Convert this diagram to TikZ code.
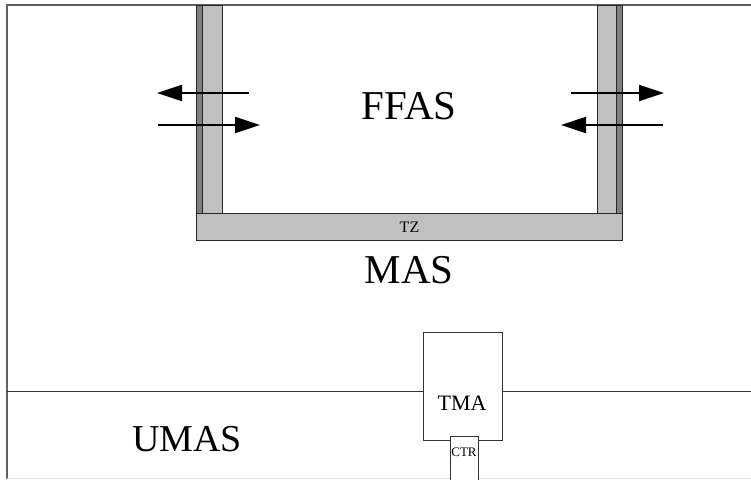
\documentclass[tikz,border=0pt]{standalone}
\usepackage{fontspec}
\setmainfont{Liberation Serif}
\usetikzlibrary{arrows.meta}
\definecolor{wallL}{HTML}{C0C0C0}
\definecolor{wallD}{HTML}{808080}
\definecolor{frameC}{HTML}{606060}
\begin{document}
\begin{tikzpicture}[x=1pt,y=-1pt,
  wall/.style={draw=black!85,line width=1pt,fill=wallL},
  dwall/.style={draw=black!85,line width=1pt,fill=wallD},
  flux/.style={line width=1.8pt,-{Triangle[length=25pt,width=16pt]}},
  big/.style={font=\fontsize{41}{44}\selectfont},
  boxw/.style={draw=black!80,line width=1pt,fill=white}]
\useasboundingbox (0,0) rectangle (751,479);
% frame
\draw[frameC,line width=1.6pt] (7,479) -- (7,5) -- (751,5);
\draw[black!12,line width=1pt] (7,478) -- (751,478);
% horizontal divider
\coordinate (dl) at (7,391);
\coordinate (dr) at (751,391);
\draw[black!80,line width=1pt] (dl) -- (dr);
% walls
\node[dwall,minimum width=6pt,minimum height=208pt,inner sep=0pt,anchor=north west] (ldark) at (196,5) {};
\node[wall,minimum width=20pt,minimum height=208pt,inner sep=0pt,anchor=north west] (llight) at (202,5) {};
\node[wall,minimum width=19pt,minimum height=208pt,inner sep=0pt,anchor=north west] (rlight) at (597,5) {};
\node[dwall,minimum width=6pt,minimum height=208pt,inner sep=0pt,anchor=north west] (rdark) at (616,5) {};
\node[wall,minimum width=426pt,minimum height=27pt,inner sep=0pt,anchor=north west,font=\fontsize{16}{16}\selectfont] (tz) at (196,213) {TZ};
% arrows
\coordinate (a1s) at (249,93); \coordinate (a1e) at (157,93);
\coordinate (a2s) at (158,125); \coordinate (a2e) at (260,125);
\coordinate (a3s) at (571,93); \coordinate (a3e) at (664,93);
\coordinate (a4s) at (663,125); \coordinate (a4e) at (561,125);
\draw[flux] (a1s) -- (a1e);
\draw[flux] (a2s) -- (a2e);
\draw[flux] (a3s) -- (a3e);
\draw[flux] (a4s) -- (a4e);
% labels
\node[big] (ffas) at (409,106) {FFAS};
\node[big] (mas) at (409,270) {MAS};
\node[font=\fontsize{38}{40}\selectfont] (umas) at (187,439) {UMAS};
% TMA / CTR
\node[boxw,minimum width=79pt,minimum height=108pt,inner sep=0pt,anchor=north west] (tma) at (423,332) {};
\node[font=\fontsize{22}{22}\selectfont] (tmal) at (462,403) {TMA};
\node[boxw,minimum width=28pt,minimum height=48pt,inner sep=0pt,anchor=north west] (ctr) at (450,436) {};
\node[font=\fontsize{13}{13}\selectfont,inner sep=0pt] (ctrl) at (464,452) {CTR};
\end{tikzpicture}
\end{document}
